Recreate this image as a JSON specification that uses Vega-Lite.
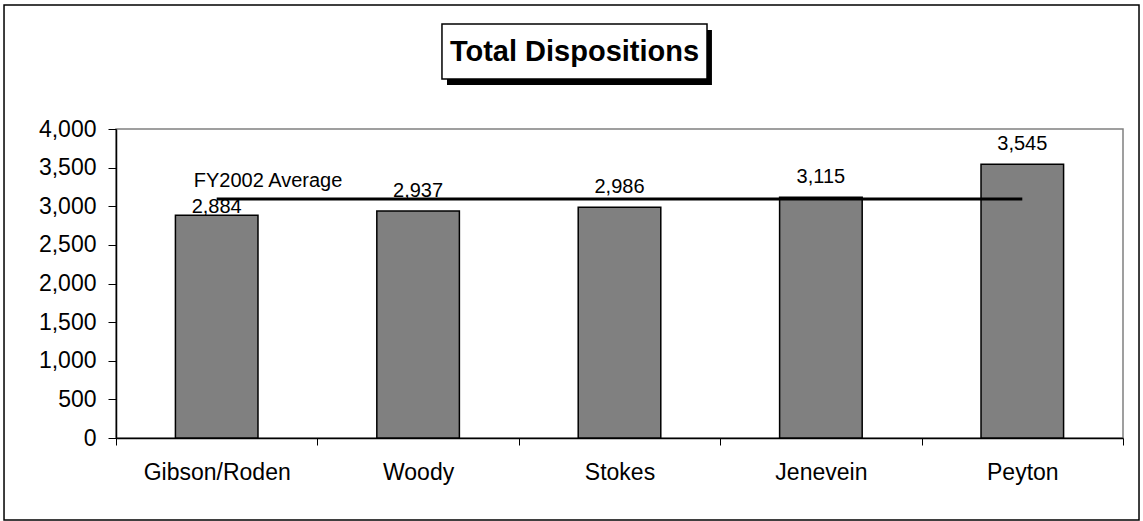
{
  "$schema": "https://vega.github.io/schema/vega-lite/v6.json",
  "autosize": "none",
  "width": 1007,
  "height": 309,
  "padding": {"left": 116, "top": 129, "right": 20, "bottom": 83},
  "background": "white",
  "config": {
    "view": {"stroke": "#808080", "strokeWidth": 1.5},
    "font": "Liberation Sans",
    "axisY": {
      "labelOverlap": false, "grid": false, "tickSize": 8, "tickColor": "black",
      "domainColor": "black", "domainWidth": 1.5, "labelPadding": 12,
      "labelFontSize": 23, "labelColor": "black", "labelFont": "Liberation Sans"
    }
  },
  "datasets": {
    "judges": [
      {"judge": "Gibson/Roden", "dispositions": 2884, "average": 3093.4},
      {"judge": "Woody", "dispositions": 2937, "average": 3093.4},
      {"judge": "Stokes", "dispositions": 2986, "average": 3093.4},
      {"judge": "Jenevein", "dispositions": 3115, "average": 3093.4},
      {"judge": "Peyton", "dispositions": 3545, "average": 3093.4}
    ],
    "avglabel": [
      {"judge": "Gibson/Roden", "average": 3093.4, "label": "FY2002 Average"}
    ],
    "deco": [
      {"title": "Total Dispositions"}
    ]
  },
  "resolve": {"scale": {"x": "independent", "y": "independent"}, "axis": {"x": "independent", "y": "independent"}},
  "layer": [
    {
      "data": {"name": "deco"},
      "layer": [
        {
          "mark": {"type": "rect", "fill": null, "stroke": "black", "strokeWidth": 1.5},
          "encoding": {
            "x": {"datum": -0.1112, "type": "quantitative", "scale": {"domain": [0, 1]}, "axis": null},
            "x2": {"datum": 1.0159},
            "y": {"datum": 1.4013, "type": "quantitative", "scale": {"domain": [0, 1]}, "axis": null},
            "y2": {"datum": -0.2654}
          }
        },
        {
          "mark": {"type": "rect", "fill": "black", "stroke": null},
          "encoding": {
            "x": {"datum": 0.3287, "type": "quantitative", "scale": {"domain": [0, 1]}, "axis": null},
            "x2": {"datum": 0.5918},
            "y": {"datum": 1.3204, "type": "quantitative", "scale": {"domain": [0, 1]}, "axis": null},
            "y2": {"datum": 1.1424}
          }
        },
        {
          "mark": {"type": "rect", "fill": "white", "stroke": "black", "strokeWidth": 1.5},
          "encoding": {
            "x": {"datum": 0.3237, "type": "quantitative", "scale": {"domain": [0, 1]}, "axis": null},
            "x2": {"datum": 0.5869},
            "y": {"datum": 1.3398, "type": "quantitative", "scale": {"domain": [0, 1]}, "axis": null},
            "y2": {"datum": 1.1618}
          }
        },
        {
          "mark": {"type": "text", "fontSize": 29, "fontWeight": "bold", "font": "Liberation Sans", "color": "black", "align": "center", "baseline": "middle"},
          "encoding": {
            "x": {"datum": 0.4553, "type": "quantitative", "scale": {"domain": [0, 1]}, "axis": null},
            "y": {"datum": 1.2492, "type": "quantitative", "scale": {"domain": [0, 1]}, "axis": null},
            "text": {"field": "title"}
          }
        }
      ]
    },
    {
      "layer": [
        {
          "data": {"name": "judges"},
          "mark": {"type": "bar", "fill": "#808080", "stroke": "black", "strokeWidth": 1.5, "width": {"band": 0.41}},
          "encoding": {
            "x": {
              "field": "judge", "type": "nominal", "sort": null, "title": null,
              "scale": {"paddingInner": 0, "paddingOuter": 0},
              "axis": {
                "labelAngle": 0, "tickBand": "extent", "tickSize": 7, "tickColor": "black",
                "domainColor": "black", "domainWidth": 1.5, "labelPadding": 16,
                "labelFontSize": 23, "labelColor": "black", "labelFont": "Liberation Sans"
              }
            },
            "y": {
              "field": "dispositions", "type": "quantitative", "title": null,
              "scale": {"domain": [0, 4000], "nice": false, "zero": true},
              "axis": {"values": [0, 500, 1000, 1500, 2000, 2500, 3000, 3500, 4000], "format": ",.0f"}
            }
          }
        },
        {
          "data": {"name": "judges"},
          "mark": {"type": "line", "color": "black", "strokeWidth": 3},
          "encoding": {
            "x": {"field": "judge", "type": "nominal", "sort": null},
            "y": {"field": "average", "type": "quantitative", "title": null,
              "axis": {"values": [0, 500, 1000, 1500, 2000, 2500, 3000, 3500, 4000], "format": ",.0f"}}
          }
        },
        {
          "data": {"name": "judges"},
          "transform": [{"filter": "datum.judge !== 'Gibson/Roden'"}],
          "mark": {"type": "text", "fontSize": 20, "color": "black", "baseline": "alphabetic", "dy": -14},
          "encoding": {
            "x": {"field": "judge", "type": "nominal", "sort": null},
            "y": {"field": "dispositions", "type": "quantitative", "title": null,
              "axis": {"values": [0, 500, 1000, 1500, 2000, 2500, 3000, 3500, 4000], "format": ",.0f"}},
            "text": {"field": "dispositions", "type": "quantitative", "format": ","}
          }
        },
        {
          "data": {"name": "judges"},
          "transform": [{"filter": "datum.judge === 'Gibson/Roden'"}],
          "mark": {"type": "text", "fontSize": 20, "color": "black", "baseline": "alphabetic", "dy": -2},
          "encoding": {
            "x": {"field": "judge", "type": "nominal", "sort": null},
            "y": {"field": "dispositions", "type": "quantitative", "title": null,
              "axis": {"values": [0, 500, 1000, 1500, 2000, 2500, 3000, 3500, 4000], "format": ",.0f"}},
            "text": {"field": "dispositions", "type": "quantitative", "format": ","}
          }
        },
        {
          "data": {"name": "avglabel"},
          "mark": {"type": "text", "fontSize": 20, "color": "black", "align": "left", "baseline": "alphabetic", "dx": -23, "dy": -12},
          "encoding": {
            "x": {"field": "judge", "type": "nominal", "sort": null},
            "y": {"field": "average", "type": "quantitative", "title": null,
              "axis": {"values": [0, 500, 1000, 1500, 2000, 2500, 3000, 3500, 4000], "format": ",.0f"}},
            "text": {"field": "label"}
          }
        }
      ]
    }
  ]
}
